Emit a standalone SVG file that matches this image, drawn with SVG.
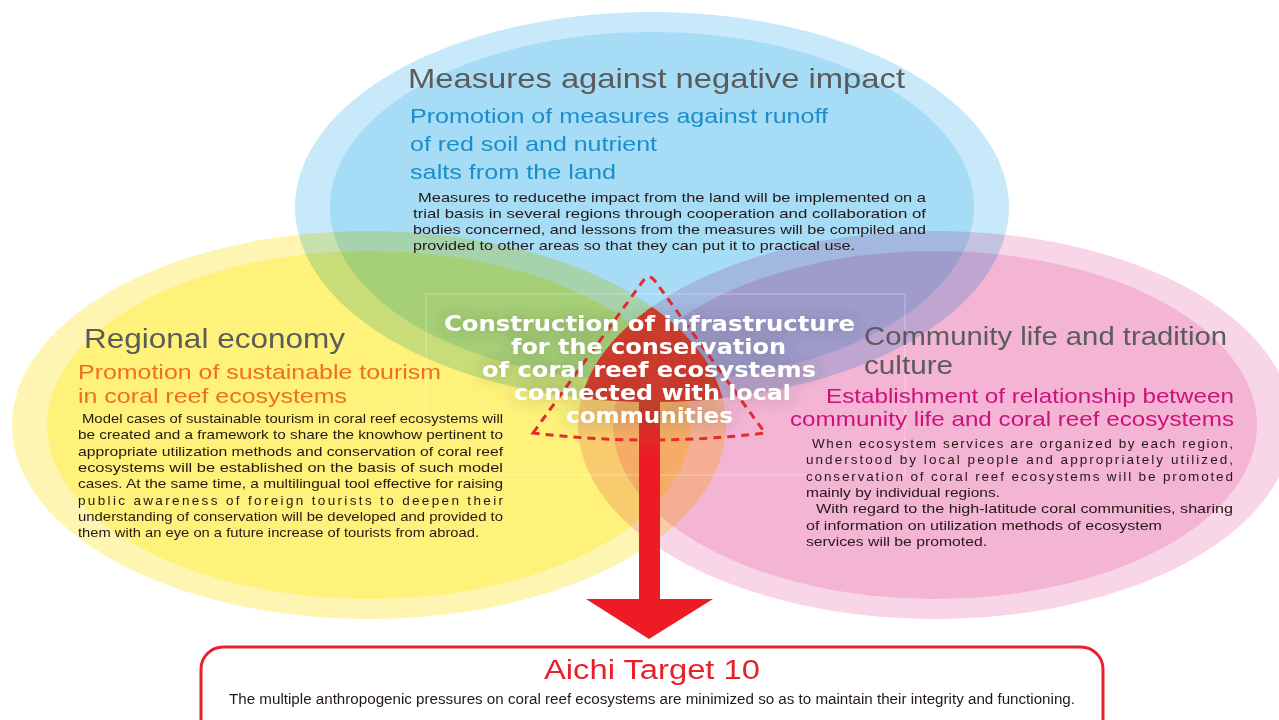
<svg xmlns="http://www.w3.org/2000/svg" width="1279" height="720" viewBox="0 0 1279 720">
  <style>
    .ttl{font-family:"Liberation Sans","Noto Sans",sans-serif;font-size:28px;fill:#5b5b5b}
    .ttl2{font-family:"Liberation Sans","Noto Sans",sans-serif;font-size:26px;fill:#5b5b5b}
    .sub{font-family:"Liberation Sans","Noto Sans",sans-serif;font-size:21px}
    .body{font-family:"Liberation Sans","Noto Sans",sans-serif;font-size:13.5px;fill:#231815}
    .ctr{font-family:"DejaVu Sans","Liberation Sans",sans-serif;font-weight:bold;font-size:21px;fill:#ffffff}
    .mul{mix-blend-mode:multiply}
  </style>
  <defs>
    <clipPath id="cY"><ellipse cx="369" cy="425" rx="357" ry="194"/></clipPath>
    <clipPath id="cP"><ellipse cx="935" cy="425" rx="357" ry="194"/></clipPath>
    <linearGradient id="shaft" x1="0" y1="0" x2="0" y2="1">
      <stop offset="0" stop-color="#c9432d"/>
      <stop offset="0.28" stop-color="#ed1c24"/>
      <stop offset="1" stop-color="#ed1c24"/>
    </linearGradient>
    <filter id="glow" x="-20%" y="-40%" width="140%" height="180%">
      <feGaussianBlur in="SourceAlpha" stdDeviation="8" result="b"/>
      <feFlood flood-color="#3a3a3a" flood-opacity="0.4"/>
      <feComposite in2="b" operator="in" result="s"/>
      <feMerge><feMergeNode in="s"/><feMergeNode in="SourceGraphic"/></feMerge>
    </filter>
  </defs>
  <rect width="1279" height="720" fill="#ffffff"/>

  <g id="circle-top" class="mul">
    <ellipse cx="652" cy="207" rx="357" ry="195" fill="#c8e9f9"/>
    <ellipse cx="652" cy="207" rx="322" ry="175" fill="#a6dcf6"/>
  </g>
  <g id="circle-left" class="mul">
    <ellipse cx="369" cy="425" rx="357" ry="194" fill="#fff5b2"/>
    <ellipse cx="369" cy="425" rx="322" ry="174" fill="#fff27a"/>
  </g>
  <g id="circle-right" class="mul">
    <ellipse cx="935" cy="425" rx="357" ry="194" fill="#f9d6e7"/>
    <ellipse cx="935" cy="425" rx="322" ry="174" fill="#f4b5d4"/>
  </g>
  <g id="core" clip-path="url(#cY)">
    <g clip-path="url(#cP)">
      <ellipse cx="652" cy="207" rx="357" ry="195" fill="#d83b2b"/>
    </g>
  </g>
  <rect x="426" y="294" width="479" height="181" fill="none" stroke="#ffffff" stroke-opacity="0.35" stroke-width="1"/>

  <g id="connectors">
    <rect x="639" y="400" width="21" height="201" fill="url(#shaft)"/>
    <polygon points="586,599 713,599 649,639" fill="#ed1c24"/>
  </g>

  <g id="node-top">
    <text class="ttl" x="408" y="88" textLength="497" lengthAdjust="spacingAndGlyphs">Measures against negative impact</text>
    <text class="sub" fill="#1b8ec9" x="410" y="123" textLength="418" lengthAdjust="spacingAndGlyphs">Promotion of measures against runoff</text>
    <text class="sub" fill="#1b8ec9" x="410" y="151" textLength="247" lengthAdjust="spacingAndGlyphs">of red soil and nutrient</text>
    <text class="sub" fill="#1b8ec9" x="410" y="179" textLength="206" lengthAdjust="spacingAndGlyphs">salts from the land</text>
    <text class="body" x="418" y="202" textLength="508" lengthAdjust="spacingAndGlyphs">Measures to reducethe impact from the land will be implemented on a</text>
    <text class="body" x="413" y="218" textLength="513" lengthAdjust="spacingAndGlyphs">trial basis in several regions through cooperation and collaboration of</text>
    <text class="body" x="413" y="234" textLength="513" lengthAdjust="spacingAndGlyphs">bodies concerned, and lessons from the measures will be compiled and</text>
    <text class="body" x="413" y="250" textLength="442" lengthAdjust="spacingAndGlyphs">provided to other areas so that they can put it to practical use.</text>
  </g>

  <g id="node-left">
    <text class="ttl" x="84" y="348" textLength="261" lengthAdjust="spacingAndGlyphs">Regional economy</text>
    <text class="sub" fill="#ef6e21" x="78" y="379" textLength="363" lengthAdjust="spacingAndGlyphs">Promotion of sustainable tourism</text>
    <text class="sub" fill="#ef6e21" x="78" y="403" textLength="269" lengthAdjust="spacingAndGlyphs">in coral reef ecosystems</text>
    <text class="body" x="82" y="423" textLength="421" lengthAdjust="spacingAndGlyphs">Model cases of sustainable tourism in coral reef ecosystems will</text>
    <text class="body" x="78" y="439" textLength="425" lengthAdjust="spacingAndGlyphs">be created and a framework to share the knowhow pertinent to</text>
    <text class="body" x="78" y="456" textLength="425" lengthAdjust="spacingAndGlyphs">appropriate utilization methods and conservation of coral reef</text>
    <text class="body" x="78" y="472" textLength="425" lengthAdjust="spacingAndGlyphs">ecosystems will be established on the basis of such model</text>
    <text class="body" x="78" y="488" textLength="425" lengthAdjust="spacingAndGlyphs">cases. At the same time, a multilingual tool effective for raising</text>
    <text class="body" x="78" y="505" textLength="425" lengthAdjust="spacing">public awareness of foreign tourists to deepen their</text>
    <text class="body" x="78" y="521" textLength="425" lengthAdjust="spacingAndGlyphs">understanding of conservation will be developed and provided to</text>
    <text class="body" x="78" y="537" textLength="401" lengthAdjust="spacingAndGlyphs">them with an eye on a future increase of tourists from abroad.</text>
  </g>

  <g id="node-right">
    <text class="ttl2" x="864" y="345" textLength="363" lengthAdjust="spacingAndGlyphs">Community life and tradition</text>
    <text class="ttl2" x="864" y="374" textLength="89" lengthAdjust="spacingAndGlyphs">culture</text>
    <text class="sub" fill="#cc117b" x="826" y="403" textLength="408" lengthAdjust="spacingAndGlyphs">Establishment of relationship between</text>
    <text class="sub" fill="#cc117b" x="790" y="426" textLength="444" lengthAdjust="spacingAndGlyphs">community life and coral reef ecosystems</text>
    <text class="body" x="812" y="448" textLength="421" lengthAdjust="spacing">When ecosystem services are organized by each region,</text>
    <text class="body" x="806" y="464" textLength="427" lengthAdjust="spacing">understood by local people and appropriately utilized,</text>
    <text class="body" x="806" y="481" textLength="427" lengthAdjust="spacing">conservation of coral reef ecosystems will be promoted</text>
    <text class="body" x="806" y="497" textLength="194" lengthAdjust="spacingAndGlyphs">mainly by individual regions.</text>
    <text class="body" x="816" y="513" textLength="417" lengthAdjust="spacingAndGlyphs">With regard to the high-latitude coral communities, sharing</text>
    <text class="body" x="806" y="530" textLength="356" lengthAdjust="spacingAndGlyphs">of information on utilization methods of ecosystem</text>
    <text class="body" x="806" y="546" textLength="181" lengthAdjust="spacingAndGlyphs">services will be promoted.</text>
  </g>

  <g id="node-center">
    <path d="M533,433 L643,281 Q649,273 655,281 L765,433 Q649,447 533,433 Z" fill="none" stroke="#e52b2b" stroke-width="3" stroke-dasharray="8,6"/>
    <g filter="url(#glow)">
      <text class="ctr" x="649.5" y="331" text-anchor="middle" textLength="411" lengthAdjust="spacingAndGlyphs">Construction of infrastructure</text>
      <text class="ctr" x="648.5" y="354" text-anchor="middle" textLength="275" lengthAdjust="spacingAndGlyphs">for the conservation</text>
      <text class="ctr" x="649" y="377" text-anchor="middle" textLength="334" lengthAdjust="spacingAndGlyphs">of coral reef ecosystems</text>
      <text class="ctr" x="652.5" y="400" text-anchor="middle" textLength="277" lengthAdjust="spacingAndGlyphs">connected with local</text>
      <text class="ctr" x="649.5" y="423" text-anchor="middle" textLength="167" lengthAdjust="spacingAndGlyphs">communities</text>
    </g>
  </g>

  <g id="node-target">
    <rect x="201" y="647" width="902" height="95" rx="22" ry="22" fill="#ffffff" stroke="#e8202a" stroke-width="3"/>
    <text x="652" y="679" text-anchor="middle" font-family="Liberation Sans, Arial, sans-serif" font-size="27" fill="#e8202a" textLength="216" lengthAdjust="spacingAndGlyphs">Aichi Target 10</text>
    <text x="229" y="704" font-family="Liberation Sans, Arial, sans-serif" font-size="14" fill="#231815" textLength="846" lengthAdjust="spacingAndGlyphs">The multiple anthropogenic pressures on coral reef ecosystems are minimized so as to maintain their integrity and functioning.</text>
  </g>
</svg>
